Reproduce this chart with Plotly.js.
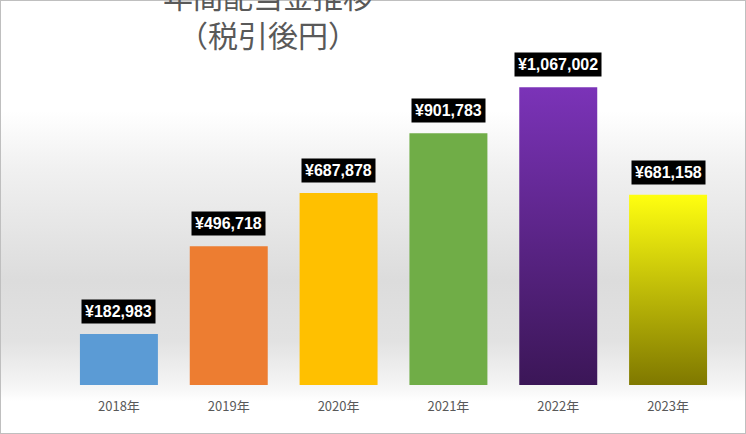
<!DOCTYPE html>
<html><head><meta charset="utf-8">
<script src="https://cdn.plot.ly/plotly-3.0.1.min.js"></script>
<style>body{margin:0}
#wrap{position:relative;width:746px;height:434px;box-sizing:border-box;border:1px solid #bfbfbf;
background:linear-gradient(to bottom,#fff 0px,#fff 110px,#f0f0f0 170px,#dcdcdc 280px,#e2e2e2 340px,#f5f5f5 385px,#fff 400px,#fff 434px)}
#c{position:absolute;left:-1px;top:-1px;width:746px;height:434px}</style></head>
<body><div id="wrap"><div id="c"></div></div>
<script>
const years = ["2018年","2019年","2020年","2021年","2022年","2023年"];
const values = [182983, 496718, 687878, 901783, 1067002, 681158];
const colors = ["#5B9BD5","#ED7D31","#FFC000","#70AD47","#7030A0","#FFFF00"];
const fmt = v => "¥" + v.toLocaleString("en-US");
Plotly.newPlot("c", [{
  type: "bar", x: years, y: values, marker: {color: colors}, width: 0.71, hoverinfo: "none"
}], {
  width: 746, height: 434,
  margin: {l: 64, r: 23, t: 50, b: 49},
  paper_bgcolor: "rgba(0,0,0,0)", plot_bgcolor: "rgba(0,0,0,0)",
  xaxis: {tickfont: {family: "Noto Sans CJK JP", size: 13, color: "#595959"}, showline: false, ticks: "", ticklabelstandoff: 12},
  yaxis: {visible: false, range: [0, 1200000]},
  showlegend: false,
  annotations: [{text: "年間配当金推移<br>（税引後円）", xref: "paper", yref: "paper", x: 0.31, y: 1 + 35/335, xanchor: "center", yanchor: "middle",
    showarrow: false, font: {family: "Noto Sans CJK JP", size: 30, color: "#595959"}}].concat(
  years.map((y, i) => ({x: y, y: values[i], text: "<b>" + fmt(values[i]) + "</b>", showarrow: false,
    yanchor: "bottom", yshift: 10, bgcolor: "#000", borderpad: 3,
    font: {family: "Liberation Sans", size: 16, color: "#fff"}})))
}, {displayModeBar: false, staticPlot: true}).then(gd => {
  const svg = gd.querySelector(".main-svg");
  const ns = "http://www.w3.org/2000/svg";
  const defs = svg.querySelector("defs");
  const mk = (id, c1, c2) => {
    const g = document.createElementNS(ns, "linearGradient");
    g.setAttribute("id", id); g.setAttribute("x1", "0"); g.setAttribute("y1", "0"); g.setAttribute("x2", "0"); g.setAttribute("y2", "1");
    [[0, c1], [1, c2]].forEach(([o, c]) => { const s = document.createElementNS(ns, "stop"); s.setAttribute("offset", o); s.setAttribute("stop-color", c); g.appendChild(s); });
    defs.appendChild(g);
  };
  mk("gp", "#7B33B8", "#3B1657");
  mk("gy", "#FFFF10", "#7F7800");
  const paths = gd.querySelectorAll(".bars .point path");
  paths[4].style.fill = "url(#gp)";
  paths[5].style.fill = "url(#gy)";
});
</script></body></html>
